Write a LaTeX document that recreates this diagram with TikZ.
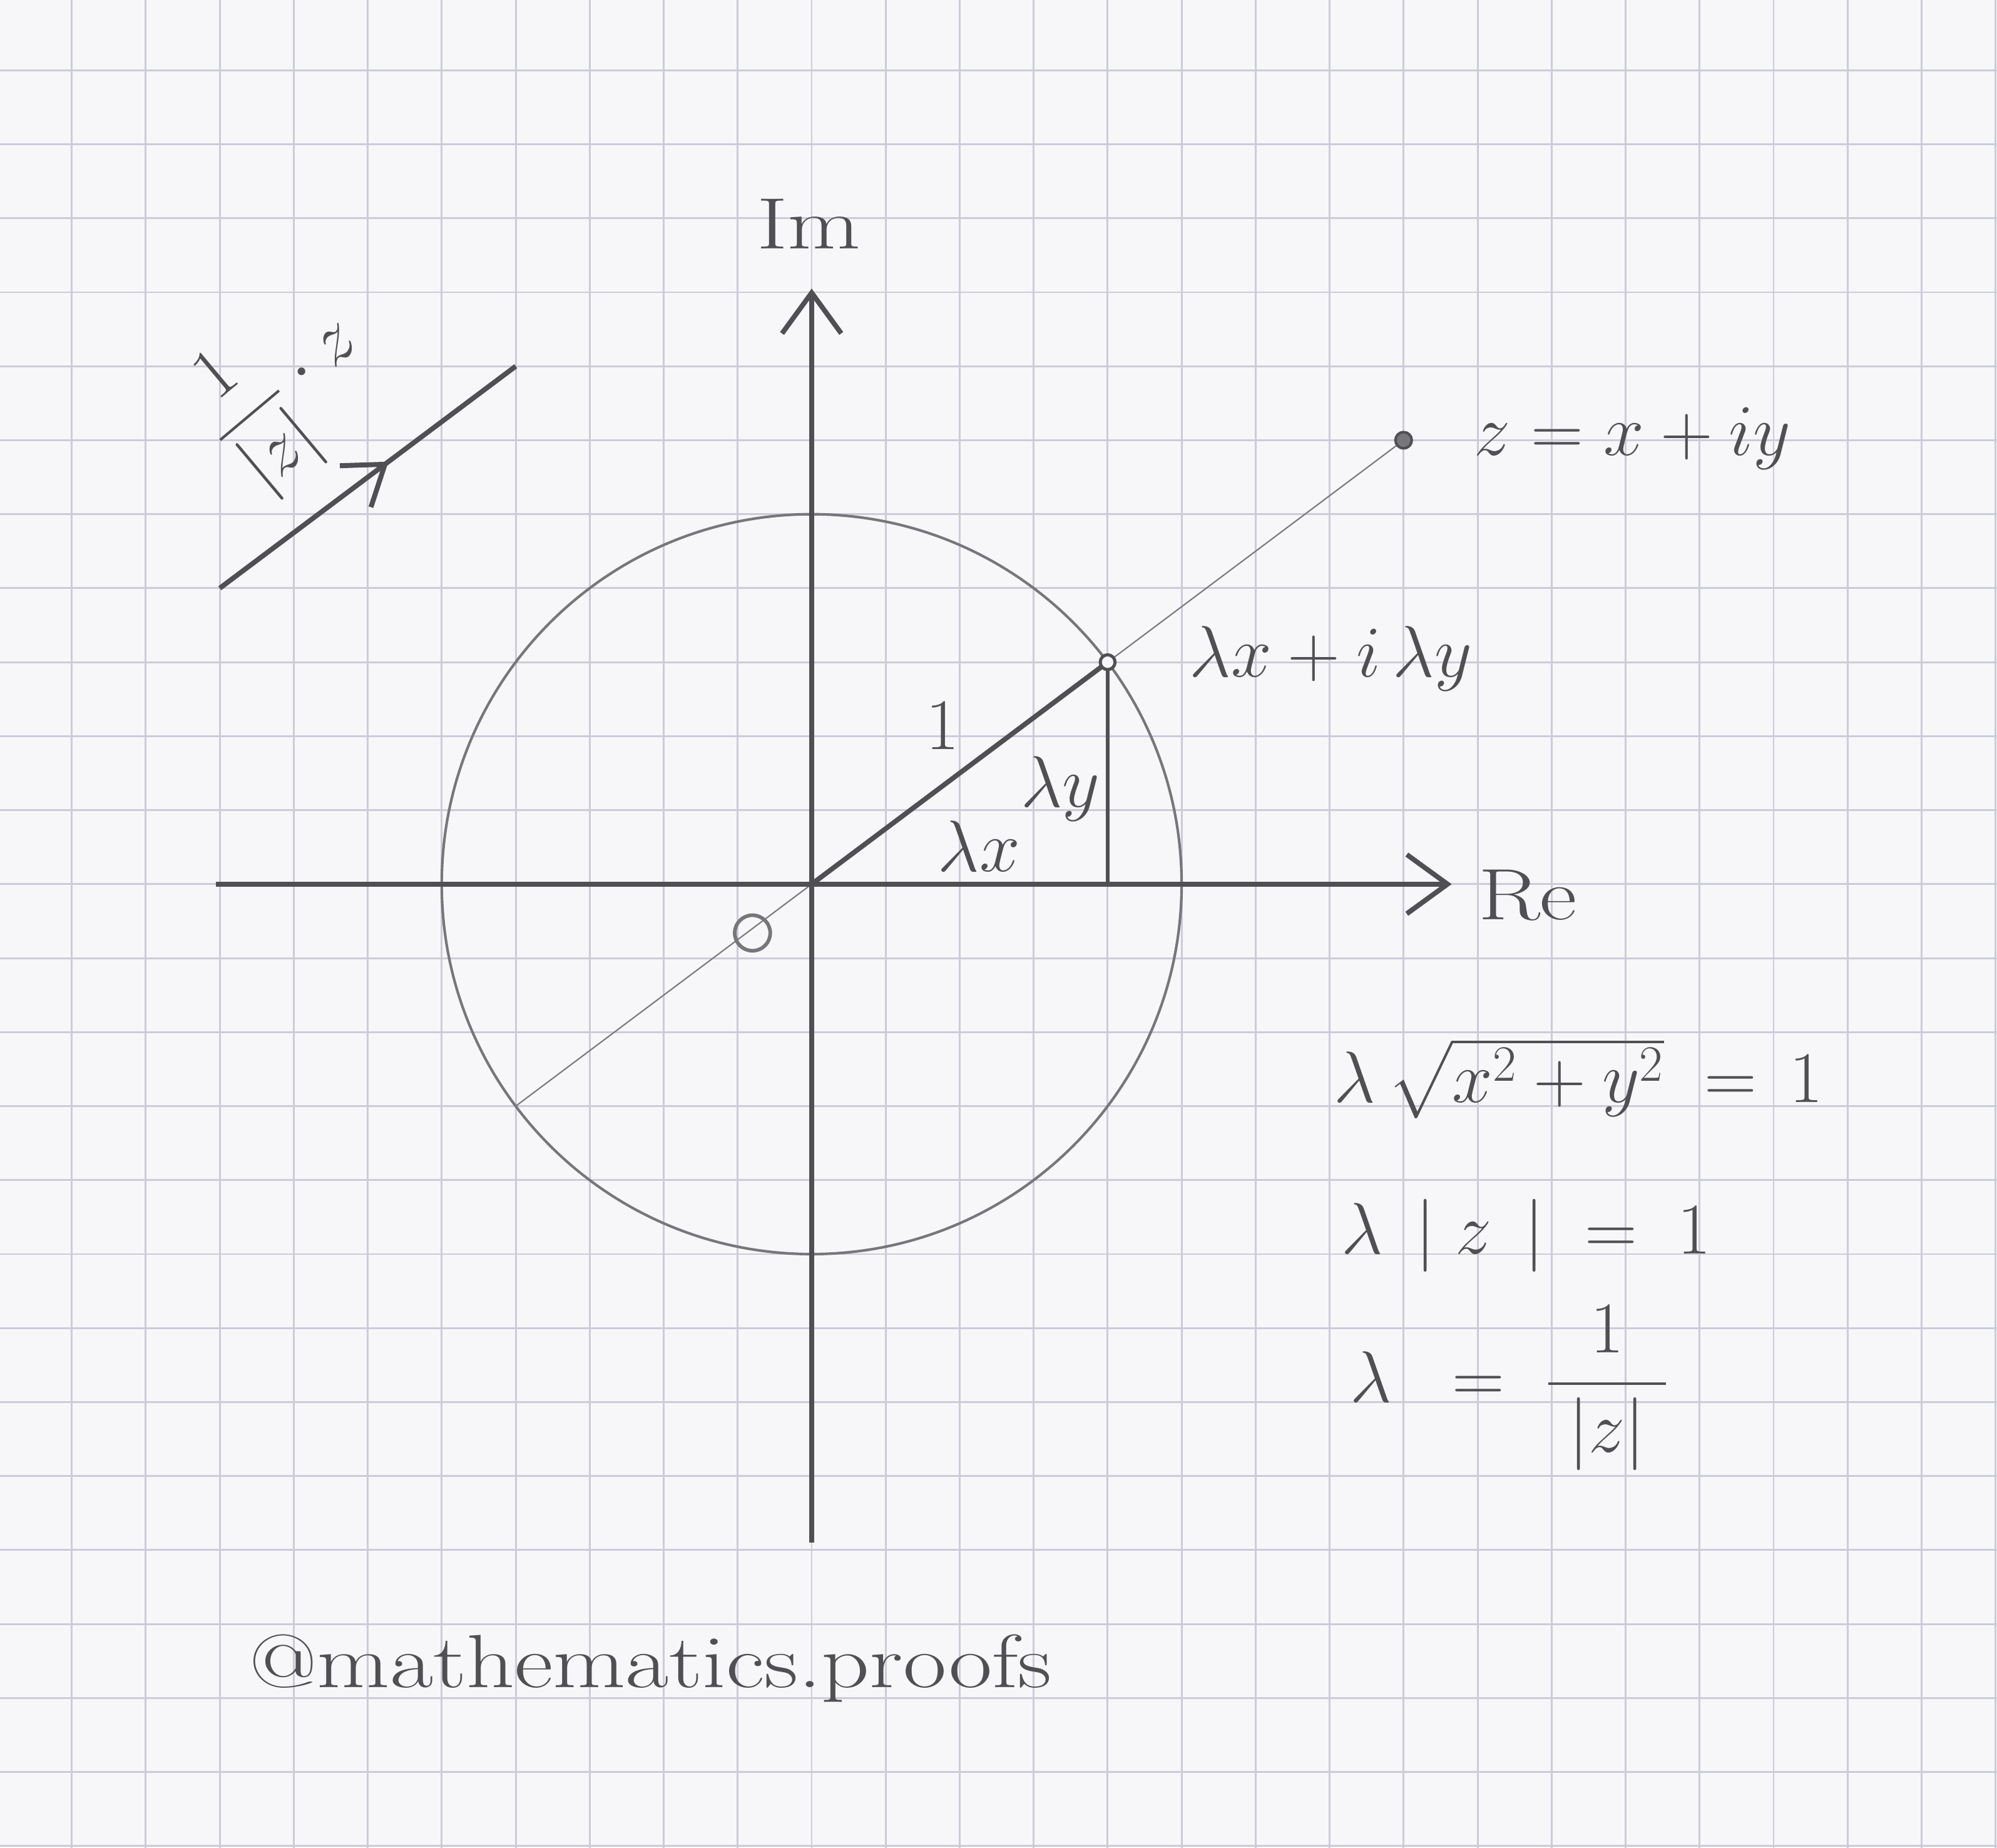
\documentclass[tikz,border=0pt]{standalone}
\usepackage{fix-cm}
\usepackage{amsmath}
\usetikzlibrary{arrows.meta,decorations.markings}

\definecolor{paper}{RGB}{247,247,249}
\definecolor{gridblue}{RGB}{203,203,218}
\definecolor{graphite}{RGB}{80,80,84}
\definecolor{softlead}{RGB}{118,118,123}

\begin{document}
\begin{tikzpicture}[
    hand/.style={font=\fontsize{28}{34}\selectfont, text=graphite, inner sep=0pt},
    axis/.style={line width=1.9pt, draw=graphite, -{Straight Barb[length=5.5mm,width=8mm]}},
    rim/.style={line width=1pt, draw=softlead},
    ray/.style={line width=0.5pt, draw=softlead},
    side/.style={line width=1.3pt, draw=graphite},
    unitleg/.style={line width=1.9pt, draw=graphite},
    midarrow/.style={line width=1.9pt, draw=graphite, postaction={decorate},
        decoration={markings, mark=at position 0.57 with {\arrow{Straight Barb[length=5mm,width=7mm]}}}}
]
% paper
\clip (-10.97,-13.02) rectangle (16.02,11.95);
\fill[paper] (-10.97,-13.02) rectangle (16.02,11.95);
\draw[gridblue, line width=0.7pt] (-11,-14) grid (17,12);

\coordinate (O) at (0,0);
\coordinate (P) at (4,3);
\coordinate (Pfoot) at (4,0);
\coordinate (Z) at (8,6);
\coordinate (Q) at (-4,-3);
\coordinate (xleft) at (-8.05,0);
\coordinate (xright) at (8.65,0);
\coordinate (ybot) at (0,-8.9);
\coordinate (ytop) at (0,8.05);
\coordinate (dirstart) at (-8,4);
\coordinate (dirend) at (-4,7);

\draw[rim] (O) circle[radius=5];
\draw[ray] (Q) -- (Z);
\draw[axis] (xleft) -- (xright);
\draw[axis] (ybot) -- (ytop);
\draw[unitleg] (O) -- (P);
\draw[side] (P) -- (Pfoot);
\draw[graphite, line width=1.2pt, fill=paper] (P) circle[radius=0.1];
\draw[graphite, line width=1pt, fill=softlead] (Z) circle[radius=0.11];
\draw[softlead, line width=1.4pt] (-0.8,-0.66) circle[radius=0.24];

\draw[midarrow] (dirstart) -- (dirend);

\node[hand, xscale=1.3, anchor=base] (im) at (-0.04,8.59) {Im};
\node[hand, xscale=1.25, anchor=base west] (re) at (9.0,-0.48) {Re};
\node[hand, anchor=base west] (zlab) at (8.95,5.8) {$z = x + iy$};
\node[hand, anchor=base west] (plab) at (5.1,2.8) {$\lambda x \mathbin{+} i\,\lambda y$};
\node[hand] (one) at (1.77,2.14) {$1$};
\node[hand, anchor=base] (lamy) at (3.36,1.04) {$\lambda y$};
\node[hand, anchor=base] (lamx) at (2.26,0.17) {$\lambda x$};
\node[hand, rotate=40] (scal) at (-7.1,6.68) {$\dfrac{1}{|z|}\cdot z$};

\node[hand, anchor=base west] (eqa) at (7.05,-2.95) {$\lambda\,\sqrt{x^2+y^2}\;=\,1$};
\node[hand, anchor=base west] (eqb) at (7.15,-5.0) {$\lambda\;\,|\;z\;\,|\;=\;1$};
\node[hand, anchor=base west] (eqc) at (7.27,-7.0) {$\lambda\;\;=\;\dfrac{1}{\;|z|\;}$};

\node[hand, font=\fontsize{29}{35}\selectfont, xscale=1.25, anchor=base west] (tag) at (-7.61,-10.86) {@mathematics.proofs};
\end{tikzpicture}
\end{document}
